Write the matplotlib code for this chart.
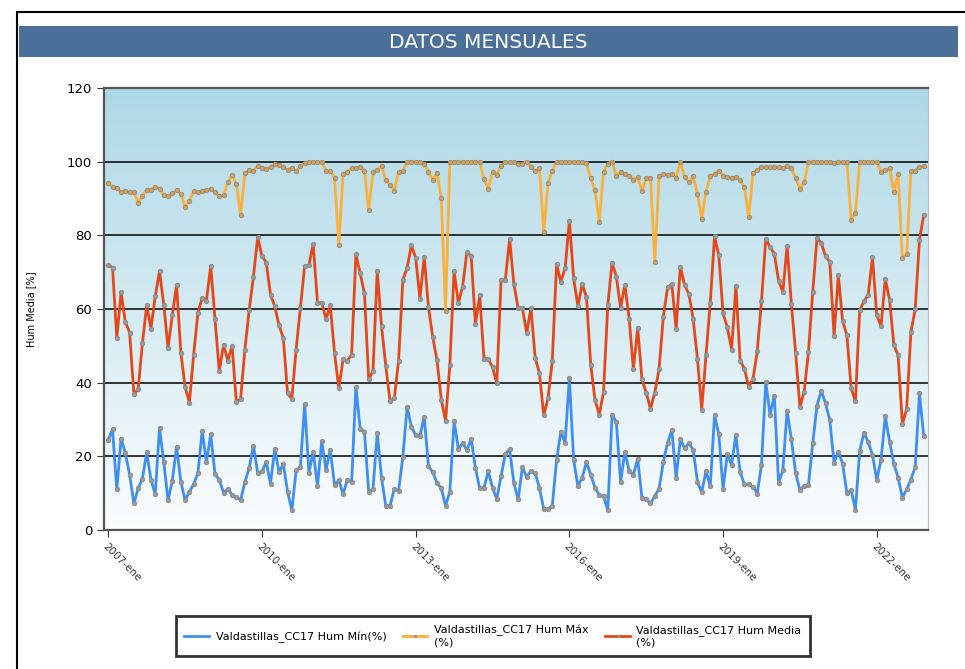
import numpy as np
import matplotlib.pyplot as plt
from matplotlib.patches import Rectangle
from matplotlib.colors import LinearSegmentedColormap

MESES = ["ene", "feb", "mar", "abr", "may", "jun", "jul", "ago", "sep", "oct", "nov", "dic"]
months = [f"{y}-{m}" for y in range(2007, 2023) for m in MESES]
tick_labels = ["2007-ene", "2010-ene", "2013-ene", "2016-ene", "2019-ene", "2022-ene"]

# Valdastillas_CC17, valores mensuales (%)
hum_min = [
    24.4, 27.3, 11.0, 24.8, 20.9, 15.0, 7.2, 11.3, 13.9, 21.1, 13.7, 9.7,
    27.7, 18.4, 8.1, 13.3, 22.6, 13.1, 8.1, 10.4, 12.4, 15.5, 26.9, 18.4,
    26.0, 15.1, 13.7, 10.1, 11.2, 9.5, 9.0, 8.1, 13.0, 16.8, 22.9, 15.5,
    15.9, 18.4, 12.6, 22.0, 15.7, 17.9, 10.4, 5.3, 16.2, 17.1, 34.2, 15.5,
    21.3, 11.9, 24.2, 16.4, 21.8, 12.2, 13.5, 9.7, 13.7, 13.0, 38.9, 27.5,
    26.7, 10.4, 11.0, 26.4, 14.2, 6.6, 6.6, 11.2, 10.6, 19.9, 33.3, 28.0,
    25.7, 25.5, 30.7, 17.3, 15.7, 12.8, 11.3, 6.6, 10.4, 29.6, 22.0, 23.5,
    21.7, 24.8, 16.8, 11.3, 11.5, 15.9, 11.5, 8.4, 14.6, 20.6, 22.0, 12.8,
    8.3, 17.0, 14.4, 16.0, 15.5, 11.3, 5.7, 5.7, 6.6, 18.9, 26.7, 23.7,
    41.3, 19.1, 11.9, 14.2, 18.4, 15.0, 11.5, 9.5, 9.2, 5.3, 31.3, 29.3,
    13.0, 21.3, 16.0, 15.0, 19.3, 8.8, 8.3, 7.2, 9.2, 11.2, 18.4, 23.7,
    27.1, 14.1, 24.6, 22.2, 23.5, 21.8, 13.1, 10.2, 16.0, 11.9, 31.1, 26.0,
    11.2, 20.6, 17.7, 25.7, 15.7, 12.4, 12.4, 11.7, 9.9, 17.7, 40.2, 31.3,
    36.5, 12.8, 16.2, 32.4, 24.6, 15.5, 10.8, 11.9, 12.2, 23.5, 33.8, 37.8,
    34.4, 29.8, 18.2, 21.3, 18.0, 10.1, 10.8, 5.5, 21.5, 26.4, 23.8, 20.4,
    13.5, 19.1, 30.9, 24.0, 18.0, 14.2, 8.8, 11.0, 13.7, 17.1, 37.1, 25.5,
]
hum_max = [
    94.2, 93.1, 92.9, 91.7, 92.0, 91.7, 91.7, 88.8, 90.8, 92.4, 92.4, 93.1,
    92.7, 90.9, 90.6, 91.5, 92.2, 91.3, 87.7, 89.3, 92.0, 91.7, 92.0, 92.2,
    92.6, 91.8, 90.8, 90.9, 94.4, 96.4, 94.0, 85.5, 96.9, 97.8, 97.6, 98.7,
    98.4, 98.0, 98.5, 99.5, 99.1, 98.5, 97.8, 98.4, 97.5, 98.7, 99.6, 100,
    100, 99.8, 99.8, 97.6, 97.6, 95.5, 77.5, 96.7, 97.1, 98.2, 98.4, 98.5,
    97.5, 86.8, 97.3, 97.8, 98.9, 94.9, 93.8, 92.0, 97.3, 97.5, 100, 100,
    100, 100, 99.5, 97.1, 95.1, 96.9, 90.2, 59.4, 100, 100, 100, 100,
    100, 100, 100, 100, 95.3, 92.7, 97.1, 96.4, 98.9, 99.8, 99.8, 99.8,
    99.3, 99.5, 100, 98.5, 97.5, 98.2, 80.8, 94.2, 97.5, 100, 100, 100,
    100, 100, 100, 100, 99.6, 95.5, 92.2, 83.7, 97.3, 99.5, 100, 96.2,
    97.3, 96.7, 96.2, 95.1, 95.8, 92.0, 95.5, 95.5, 72.8, 96.0, 96.7, 96.4,
    96.6, 95.6, 100, 95.8, 94.4, 96.0, 91.3, 84.4, 91.8, 96.0, 96.7, 97.5,
    96.2, 95.8, 95.6, 95.8, 94.9, 93.1, 84.9, 96.9, 97.8, 98.5, 98.5, 98.5,
    98.5, 98.5, 98.2, 98.9, 98.2, 95.5, 92.7, 94.4, 100, 100, 100, 100,
    100, 100, 99.7, 100, 100, 100, 84.2, 86.0, 100, 100, 100, 100,
    100, 97.3, 97.8, 98.2, 91.8, 96.6, 73.9, 74.8, 97.6, 97.5, 98.5, 98.9,
]
hum_media = [
    71.9, 71.2, 52.1, 64.5, 56.5, 53.6, 36.9, 38.3, 50.7, 61.0, 54.7, 63.4,
    70.2, 61.2, 49.4, 58.3, 66.6, 48.1, 38.9, 34.5, 47.6, 59.0, 63.0, 62.3,
    71.8, 57.2, 43.1, 50.3, 46.0, 50.0, 34.7, 35.6, 49.0, 59.7, 68.8, 79.5,
    74.4, 72.6, 63.9, 60.7, 55.6, 52.1, 37.1, 35.6, 49.0, 60.3, 71.7, 71.9,
    77.7, 61.7, 61.7, 57.2, 61.0, 48.0, 38.5, 46.3, 46.0, 47.6, 74.8, 69.7,
    64.3, 40.9, 43.1, 70.3, 55.4, 44.5, 34.9, 35.8, 46.0, 67.9, 71.2, 77.3,
    73.9, 62.8, 74.1, 60.5, 52.3, 46.1, 35.4, 29.5, 44.7, 70.3, 61.6, 66.1,
    75.5, 74.4, 55.8, 63.7, 46.5, 46.5, 44.2, 39.8, 67.9, 67.9, 79.1, 66.8,
    60.3, 60.3, 53.4, 60.3, 46.7, 42.5, 31.1, 35.8, 46.0, 72.1, 67.4, 71.0,
    84.0, 68.3, 60.7, 66.8, 63.2, 44.9, 35.4, 31.3, 37.4, 61.0, 72.6, 68.8,
    60.3, 66.6, 57.4, 43.6, 54.9, 40.9, 37.3, 32.9, 37.3, 43.6, 57.8, 65.9,
    66.8, 54.5, 71.5, 66.4, 64.1, 57.2, 46.5, 32.7, 47.4, 61.7, 79.7, 74.6,
    58.8, 55.0, 49.0, 66.3, 46.0, 43.8, 38.9, 40.9, 48.5, 62.1, 79.1, 76.8,
    75.0, 67.7, 64.6, 77.2, 61.4, 48.1, 33.3, 37.6, 48.3, 64.6, 79.3, 77.9,
    74.3, 72.8, 52.7, 69.2, 56.7, 52.9, 38.5, 34.9, 59.7, 62.1, 63.9, 74.1,
    58.3, 55.4, 68.1, 62.5, 50.3, 47.4, 28.7, 32.9, 53.8, 59.9, 78.8, 85.5,
]

W, H = 965, 669


def fig_box(x0, y0, x1, y1):
    # pixel box (top-left origin) -> figure fraction [left, bottom, width, height]
    return [x0 / W, 1 - y1 / H, (x1 - x0) / W, (y1 - y0) / H]


fig = plt.figure(figsize=(W / 100, H / 100), dpi=100)

# outer frame and title bar
fig.add_artist(Rectangle((17 / W, 1 - 700 / H), 1, 688 / H, transform=fig.transFigure,
                         fill=False, edgecolor="black", linewidth=1.5, clip_on=False))
fig.add_artist(Rectangle((19 / W, 1 - 57 / H), 939 / W, 31 / H, transform=fig.transFigure,
                         facecolor="#4a6f98", edgecolor="none"))
fig.text(488 / W, 1 - 42 / H, "DATOS MENSUALES", color="white", fontsize=14.5,
         ha="center", va="center")

ax = fig.add_axes(fig_box(104, 88, 928, 530))

# background gradient, white at the bottom to light blue at the top
grad = np.linspace(0, 1, 256).reshape(-1, 1)
cmap = LinearSegmentedColormap.from_list("bg", ["#fbfdfe", "#aed8e6"])
ax.imshow(grad, extent=(0, 1, 0, 1), transform=ax.transAxes, cmap=cmap,
          origin="lower", aspect="auto", zorder=0)

x = np.arange(len(months))
ax.plot(x, hum_min, color="#3f8ef0", lw=2, marker="o", ms=3.2,
        mfc="#9a9a9a", mec="#888888", mew=0.6, zorder=3,
        label="Valdastillas_CC17 Hum Mín(%)")
ax.plot(x, hum_max, color="#fbb03b", lw=2, marker="o", ms=3.2,
        mfc="#d8a050", mec="#8a8a8a", mew=0.6, zorder=3,
        label="Valdastillas_CC17 Hum Máx\n(%)")
ax.plot(x, hum_media, color="#e4481a", lw=2, marker="o", ms=3.2,
        mfc="#9a9a9a", mec="#888888", mew=0.6, zorder=3,
        label="Valdastillas_CC17 Hum Media\n(%)")

ax.set_xlim(-1, 192)
ax.set_ylim(0, 120)
ax.set_yticks(range(0, 121, 20))
ax.grid(axis="y", color="black", linewidth=1.1, zorder=1)

tick_pos = [months.index(t) for t in tick_labels]
ax.set_xticks(tick_pos)
ax.set_xticklabels(tick_labels, rotation=-45, ha="left", va="top",
                   rotation_mode="anchor", fontsize=7.5, color="#333333")
ax.tick_params(axis="y", labelsize=9.5, length=5, color="#333333")
ax.tick_params(axis="x", length=5, color="#333333", pad=3)

for side in ["left", "bottom", "top"]:
    ax.spines[side].set_color("#555555")
    ax.spines[side].set_linewidth(1.6)
ax.spines["right"].set_color("#bbbbbb")
ax.spines["right"].set_linewidth(0.8)

ax.set_ylabel("Hum Media [%]", fontsize=7, labelpad=22)

leg = fig.legend(loc="center", bbox_to_anchor=(493 / W, 1 - 636 / H), ncol=3,
                 fontsize=8, frameon=True, fancybox=False, edgecolor="black",
                 handlelength=2.2, columnspacing=1.5, handletextpad=0.6,
                 borderpad=0.75, markerscale=0.5)
leg.get_frame().set_linewidth(2)

fig.savefig("out.png", dpi=100)
